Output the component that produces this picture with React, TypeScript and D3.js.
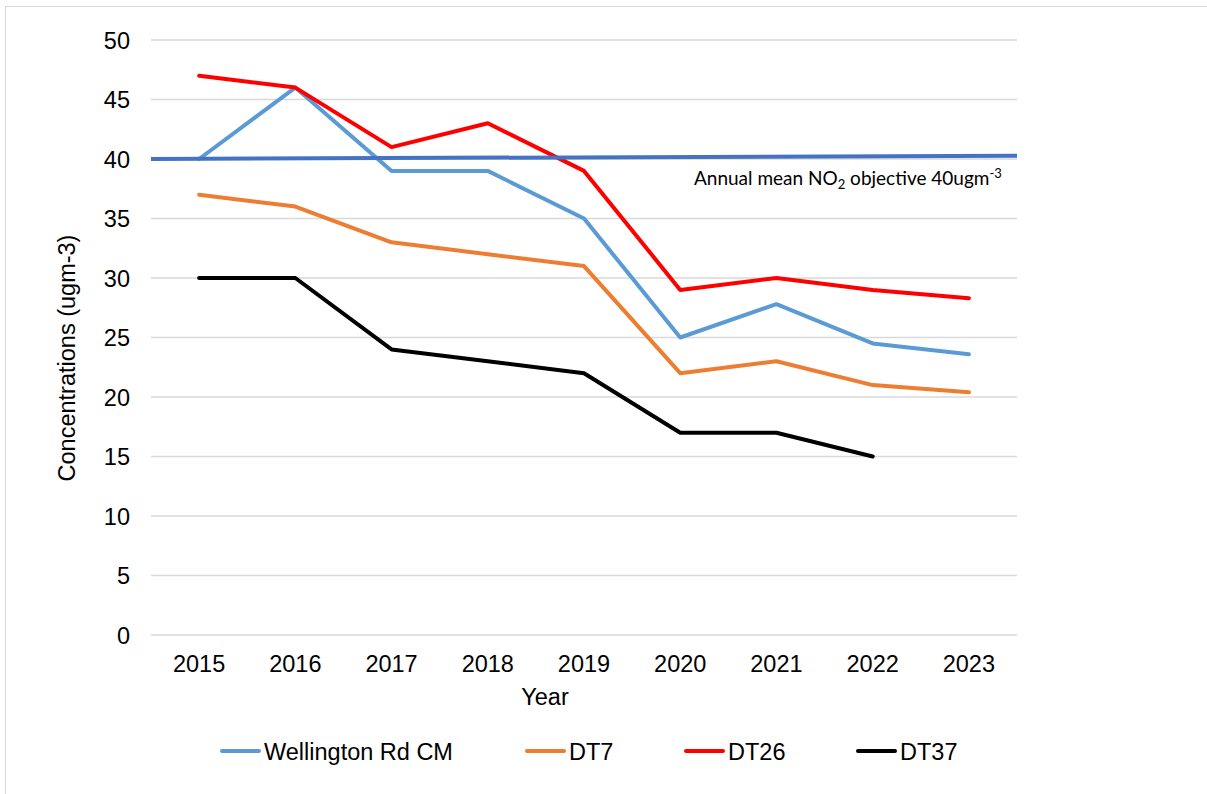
import React from 'react';
import * as d3 from 'd3';

const years = ['2015', '2016', '2017', '2018', '2019', '2020', '2021', '2022', '2023'];
const wellington = [40, 46, 39, 39, 35, 25, 27.8, 24.5, 23.6];
const dt7 = [37, 36, 33, 32, 31, 22, 23, 21, 20.4];
const dt26 = [47, 46, 41, 43, 39, 29, 30, 29, 28.3];
const dt37: (number | null)[] = [30, 30, 24, 23, 22, 17, 17, 15, null];
const yTicks = [0, 5, 10, 15, 20, 25, 30, 35, 40, 45, 50];
// objective line, drawn across the plot, left and right ends
const objectiveEnds = [40, 40.28];

const seriesList = [
  { name: 'Wellington Rd CM', values: wellington, color: '#5B9BD5' },
  { name: 'DT7', values: dt7, color: '#ED7D31' },
  { name: 'DT26', values: dt26, color: '#FF0000' },
  { name: 'DT37', values: dt37, color: '#000000' },
];

const W = 1207;
const H = 794;
const margin = { left: 151, right: 190, top: 40, bottom: 159 };
const plotW = W - margin.left - margin.right;
const plotH = H - margin.top - margin.bottom;

const arial = 'Arial, "Liberation Sans", sans-serif';
const fs = 23.5;

export default function App() {
  const x = d3.scaleBand().domain(years).range([0, plotW]);
  const y = d3.scaleLinear().domain([0, 50]).range([plotH, 0]);
  const cx = (d: string) => (x(d) ?? 0) + x.bandwidth() / 2;

  const line = d3
    .line<number | null>()
    .defined((d) => d !== null)
    .x((_, i) => cx(years[i]))
    .y((d) => y(d as number));

  const objX = d3.scaleLinear().domain([0, 1]).range([0, plotW]);
  const objLine = d3
    .line<number>()
    .x((_, i) => objX(i))
    .y((d) => y(d));

  // legend layout: sample line start for each entry
  const legendX = [220, 525, 684, 856];

  return (
    <svg
      width={W}
      height={H}
      style={{ position: 'absolute', left: 0, top: 0, display: 'block', background: '#fff' }}
    >
      <rect x={5.5} y={6.5} width={W + 10} height={H + 10} fill="#fff" stroke="#d9d9d9" strokeWidth={1} />
      <g transform={`translate(${margin.left},${margin.top})`}>
        {yTicks.map((t) => (
          <g key={t}>
            <line x1={0} x2={plotW} y1={y(t)} y2={y(t)} stroke="#d9d9d9" strokeWidth={1.3} />
            <text
              x={-21}
              y={y(t) + 8.5}
              textAnchor="end"
              fontFamily={arial}
              fontSize={fs}
              fill="#000"
            >
              {t}
            </text>
          </g>
        ))}
        {years.map((yr) => (
          <text
            key={yr}
            x={cx(yr)}
            y={plotH + 37}
            textAnchor="middle"
            fontFamily={arial}
            fontSize={fs}
            fill="#000"
          >
            {yr}
          </text>
        ))}
        {seriesList.map((s) => (
          <path
            key={s.name}
            d={line(s.values) ?? ''}
            fill="none"
            stroke={s.color}
            strokeWidth={4}
            strokeLinecap="round"
            strokeLinejoin="round"
          />
        ))}
        <path d={objLine(objectiveEnds) ?? ''} fill="none" stroke="#4472C4" strokeWidth={4} />
        <text x={543} y={145} fontFamily='"Lato", "Carlito", sans-serif' fontSize={19} fill="#000">
          Annual mean NO
          <tspan fontSize={13} dy={4}>2</tspan>
          <tspan dy={-4}> objective 40ugm</tspan>
          <tspan fontSize={13} dy={-7}>-3</tspan>
        </text>
      </g>
      <text
        transform={`translate(75,358) rotate(-90)`}
        textAnchor="middle"
        fontFamily={arial}
        fontSize={fs}
        fill="#000"
      >
        Concentrations (ugm-3)
      </text>
      <text x={545} y={705} textAnchor="middle" fontFamily={arial} fontSize={fs} fill="#000">
        Year
      </text>
      {seriesList.map((s, i) => (
        <g key={s.name} transform={`translate(${legendX[i]},751)`}>
          <line x1={2} x2={39} y1={0} y2={0} stroke={s.color} strokeWidth={4} strokeLinecap="round" />
          <text x={44} y={8.5} fontFamily={arial} fontSize={fs} fill="#000">
            {s.name}
          </text>
        </g>
      ))}
    </svg>
  );
}
